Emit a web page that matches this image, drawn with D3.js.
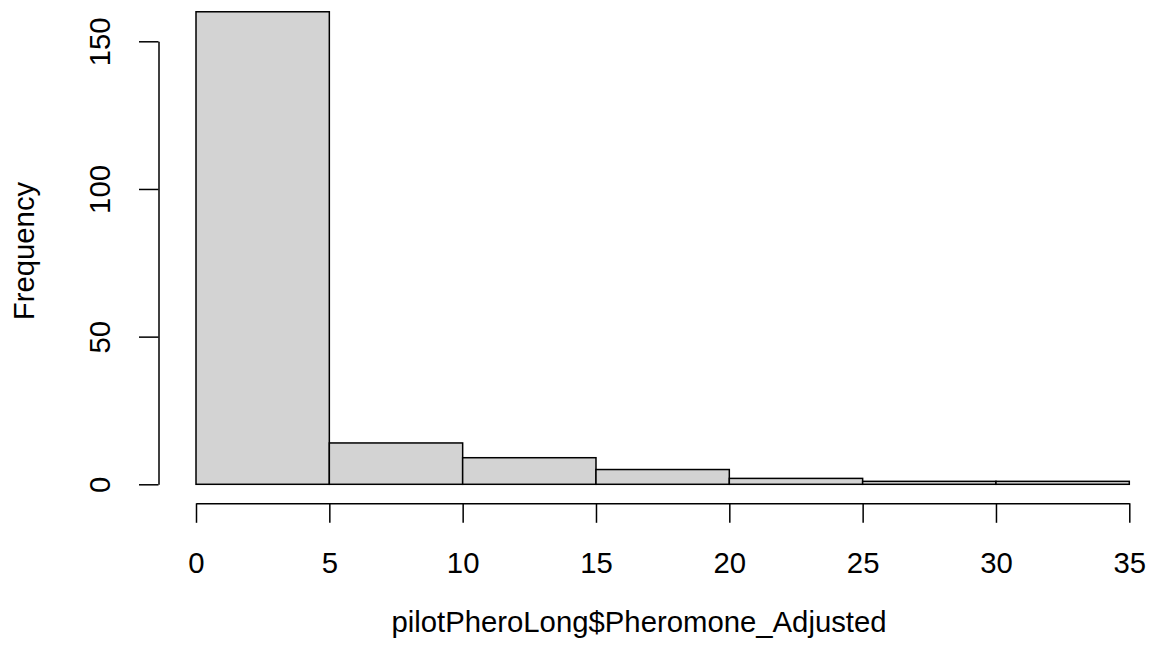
<!DOCTYPE html>
<html>
<head>
<meta charset="utf-8">
<script src="https://cdn.jsdelivr.net/npm/d3@7"></script>
<style>
  body { margin: 0; background: #fff; }
  text { font-family: "Liberation Sans", Arial, sans-serif; fill: #000; }
</style>
</head>
<body>
<svg width="1153" height="656"></svg>
<script>
// histogram data
const binStarts = [0, 5, 10, 15, 20, 25, 30];
const binWidth = 5;
const counts = [160, 14, 9, 5, 2, 1, 1];
const xTicks = [0, 5, 10, 15, 20, 25, 30, 35];
const yTicks = [0, 50, 100, 150];
const xLabel = 'pilotPheroLong$Pheromone_Adjusted';
const yLabel = 'Frequency';

const svg = d3.select('svg');
const fontSize = 29.3;
const lw = 1.5;

const x = d3.scaleLinear().domain([0, 35]).range([196, 1129.3]);
const y = d3.scaleLinear().domain([0, 150]).range([484.3, 41.3]);

const data = binStarts.map((s, i) => ({x0: s, x1: s + binWidth, n: counts[i]}));

// bars
svg.append('g').selectAll('rect').data(data)
    .enter()
    .append('rect')
        .attr('x', d => x(d.x0))
        .attr('y', d => y(d.n))
        .attr('width', d => x(d.x1) - x(d.x0))
        .attr('height', d => y(0) - y(d.n))
        .attr('fill', '#d3d3d3')
        .attr('stroke', '#000')
        .attr('stroke-width', lw);

// x axis, below the bars like R does
const xg = svg.append('g')
    .attr('transform', 'translate(0, 503.3)')
    .call(d3.axisBottom(x).tickValues(xTicks).tickSize(19.5).tickSizeOuter(0).tickPadding(0));
xg.selectAll('text').remove();
xg.selectAll('.tick').append('text')
    .attr('y', 69.4)
    .attr('text-anchor', 'middle')
    .style('font-size', fontSize + 'px')
    .text(d => d);

// y axis, labels turned like R does
const yg = svg.append('g')
    .attr('transform', 'translate(158.5, 0)')
    .call(d3.axisLeft(y).tickValues(yTicks).tickSize(19.5).tickSizeOuter(0));
yg.selectAll('text').remove();
yg.selectAll('.tick').append('text')
    .attr('transform', 'translate(-48.5, 0) rotate(-90)')
    .attr('text-anchor', 'middle')
    .style('font-size', fontSize + 'px')
    .text(d => d);

svg.selectAll('.domain, .tick line')
    .attr('stroke', '#000')
    .attr('stroke-width', lw);

// titles
svg.append('text')
    .attr('x', 639)
    .attr('y', 631.7)
    .attr('text-anchor', 'middle')
    .style('font-size', fontSize + 'px')
    .text(xLabel);

svg.append('text')
    .attr('transform', 'translate(33.5, 251) rotate(-90)')
    .attr('text-anchor', 'middle')
    .style('font-size', fontSize + 'px')
    .text(yLabel);
</script>
</body>
</html>
